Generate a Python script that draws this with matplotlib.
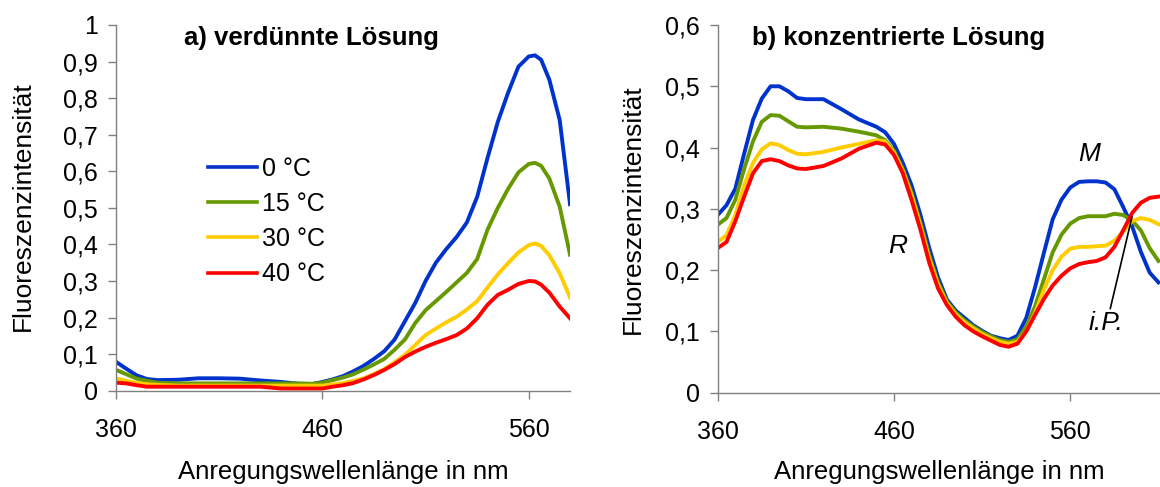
import numpy as np
from matplotlib import pyplot as plt
from matplotlib.ticker import FuncFormatter

plt.rcParams['font.family'] = ['Liberation Sans', 'DejaVu Sans']

# a) verduennte Loesung
wl_a = [360, 365, 370, 375, 380, 390, 400, 410, 420, 430, 440, 450, 455, 460, 465, 470,
        475, 480, 485, 490, 495, 500, 505, 510, 515, 520, 525, 530, 535, 540, 545, 550,
        555, 560, 563, 566, 570, 575, 580]
c0_a = [0.079, 0.060, 0.042, 0.032, 0.029, 0.030, 0.034, 0.034, 0.033, 0.028, 0.024, 0.018,
        0.018, 0.024, 0.031, 0.040, 0.053, 0.068, 0.087, 0.108, 0.140, 0.190, 0.240, 0.300,
        0.350, 0.387, 0.420, 0.460, 0.530, 0.636, 0.735, 0.815, 0.886, 0.914, 0.917, 0.905,
        0.850, 0.740, 0.510]
c15_a = [0.057, 0.045, 0.033, 0.027, 0.022, 0.020, 0.020, 0.020, 0.020, 0.020, 0.020, 0.020,
         0.019, 0.022, 0.029, 0.036, 0.045, 0.058, 0.072, 0.087, 0.112, 0.140, 0.185, 0.220,
         0.245, 0.270, 0.296, 0.322, 0.360, 0.440, 0.500, 0.552, 0.597, 0.620, 0.623, 0.615,
         0.580, 0.503, 0.372]
c30_a = [0.034, 0.027, 0.021, 0.018, 0.016, 0.014, 0.014, 0.014, 0.014, 0.014, 0.014, 0.014,
         0.014, 0.014, 0.017, 0.021, 0.027, 0.034, 0.046, 0.059, 0.078, 0.098, 0.125, 0.152,
         0.170, 0.187, 0.202, 0.222, 0.245, 0.282, 0.318, 0.349, 0.378, 0.398, 0.403, 0.396,
         0.370, 0.321, 0.255]
c40_a = [0.022, 0.020, 0.015, 0.011, 0.011, 0.011, 0.011, 0.011, 0.011, 0.011, 0.006, 0.006,
         0.006, 0.006, 0.011, 0.015, 0.021, 0.031, 0.043, 0.057, 0.073, 0.092, 0.107, 0.120,
         0.131, 0.141, 0.152, 0.170, 0.198, 0.235, 0.262, 0.276, 0.292, 0.300, 0.299, 0.290,
         0.268, 0.230, 0.198]

# b) konzentrierte Loesung
wl_b = [360, 365, 370, 375, 380, 385, 390, 395, 400, 405, 410, 420, 430, 440, 450, 455,
        460, 465, 470, 475, 480, 485, 490, 495, 500, 505, 510, 515, 520, 525, 530, 535,
        540, 545, 550, 555, 560, 565, 570, 575, 580, 585, 590, 595, 600, 605, 610]
c0_b = [0.290, 0.306, 0.333, 0.390, 0.445, 0.480, 0.500, 0.500, 0.492, 0.481, 0.479, 0.479,
        0.463, 0.446, 0.434, 0.425, 0.406, 0.375, 0.338, 0.290, 0.236, 0.188, 0.152, 0.134,
        0.122, 0.110, 0.101, 0.093, 0.089, 0.086, 0.093, 0.122, 0.172, 0.228, 0.283, 0.315,
        0.335, 0.344, 0.345, 0.345, 0.343, 0.332, 0.303, 0.272, 0.230, 0.196, 0.180]
c15_b = [0.274, 0.285, 0.315, 0.365, 0.410, 0.442, 0.453, 0.452, 0.443, 0.434, 0.433, 0.434,
         0.431, 0.426, 0.420, 0.412, 0.395, 0.365, 0.326, 0.277, 0.224, 0.180, 0.149, 0.131,
         0.118, 0.108, 0.099, 0.092, 0.086, 0.083, 0.087, 0.108, 0.141, 0.185, 0.229, 0.258,
         0.276, 0.285, 0.288, 0.288, 0.288, 0.292, 0.290, 0.281, 0.265, 0.236, 0.215]
c30_b = [0.246, 0.257, 0.290, 0.338, 0.375, 0.397, 0.407, 0.404, 0.396, 0.390, 0.389, 0.393,
         0.400, 0.406, 0.412, 0.410, 0.392, 0.362, 0.322, 0.272, 0.219, 0.176, 0.146, 0.128,
         0.115, 0.105, 0.096, 0.089, 0.083, 0.080, 0.083, 0.100, 0.130, 0.168, 0.200, 0.222,
         0.235, 0.238, 0.238, 0.239, 0.240, 0.248, 0.263, 0.280, 0.285, 0.282, 0.275]
c40_b = [0.236, 0.246, 0.280, 0.320, 0.358, 0.378, 0.381, 0.378, 0.371, 0.366, 0.365, 0.370,
         0.382, 0.398, 0.408, 0.405, 0.388, 0.358, 0.314, 0.266, 0.212, 0.170, 0.143, 0.124,
         0.110, 0.100, 0.092, 0.085, 0.078, 0.075, 0.080, 0.100, 0.127, 0.153, 0.175, 0.191,
         0.203, 0.210, 0.213, 0.215, 0.221, 0.238, 0.265, 0.293, 0.310, 0.318, 0.320]

labels = ['0 °C', '15 °C', '30 °C', '40 °C']
colors = ['#0033CC', '#669900', '#FFCC00', '#FF0000']
x_ticks = [360, 460, 560]


def comma(v, pos):
    return ('%g' % round(v, 1)).replace('.', ',')


def style_axes(ax, ymax):
    for s in ['top', 'right']:
        ax.spines[s].set_visible(False)
    for s in ['left', 'bottom']:
        ax.spines[s].set_color('#808080')
        ax.spines[s].set_linewidth(1.0)
    ax.tick_params(direction='out', length=6, width=1.0, color='#808080', labelsize=18)
    ax.tick_params(axis='x', pad=14)
    ax.tick_params(axis='y', pad=7)
    ax.set_xticks(x_ticks)
    ax.set_yticks(np.arange(0, ymax + 0.001, 0.1))
    ax.yaxis.set_major_formatter(FuncFormatter(comma))
    ax.set_ylim(0, ymax)
    ax.set_xlabel('Anregungswellenlänge in nm', fontsize=18.5)
    ax.set_ylabel('Fluoreszenzintensität', fontsize=19)


fig = plt.figure(figsize=(11.6, 4.87), dpi=100)

ax1 = fig.add_axes([0.1, 0.1977, 0.3914, 0.751])
for ys, c, lab in zip([c0_a, c15_a, c30_a, c40_a], colors, labels):
    ax1.plot(wl_a, ys, color=c, lw=2.8, label=lab, solid_joinstyle='round')
ax1.set_xlim(360, 580)
style_axes(ax1, 1.0)
ax1.xaxis.set_label_coords(0.5, -0.19)
ax1.yaxis.set_label_coords(-0.178, 0.505)
ax1.text(0.15, 0.9645, 'a) verdünnte Lösung', transform=ax1.transAxes, fontsize=18.5,
         fontweight='bold', va='center', ha='left')
leg = ax1.legend(loc='center left', bbox_to_anchor=(0.2026, 0.4627), frameon=False,
                 fontsize=18, handlelength=1.95, handletextpad=0.2, labelspacing=0.45,
                 borderpad=0, borderaxespad=0)
for h in leg.get_lines():
    h.set_linewidth(2.6)

ax2 = fig.add_axes([0.6187, 0.1936, 0.3815, 0.755])
for ys, c, lab in zip([c0_b, c15_b, c30_b, c40_b], colors, labels):
    ax2.plot(wl_b, ys, color=c, lw=2.8, label=lab, solid_joinstyle='round')
ax2.set_xlim(360, 611)
style_axes(ax2, 0.6)
ax2.xaxis.set_label_coords(0.5, -0.183)
ax2.yaxis.set_label_coords(-0.165, 0.5)
ax2.text(0.0766, 0.9646, 'b) konzentrierte Lösung', transform=ax2.transAxes, fontsize=18.5,
         fontweight='bold', va='center', ha='left')
ax2.text(570.6, 0.39, 'M', fontsize=19, style='italic', ha='center', va='center')
ax2.text(462.2, 0.24, 'R', fontsize=19, style='italic', ha='center', va='center')
ax2.annotate('i.P.', xy=(595, 0.287), xytext=(580.3, 0.113), fontsize=19, style='italic',
             ha='center', va='center',
             arrowprops=dict(arrowstyle='-', color='black', lw=1.2, relpos=(0.6, 1.0),
                             shrinkA=0, shrinkB=0))

fig.savefig('out.png', dpi=100)
